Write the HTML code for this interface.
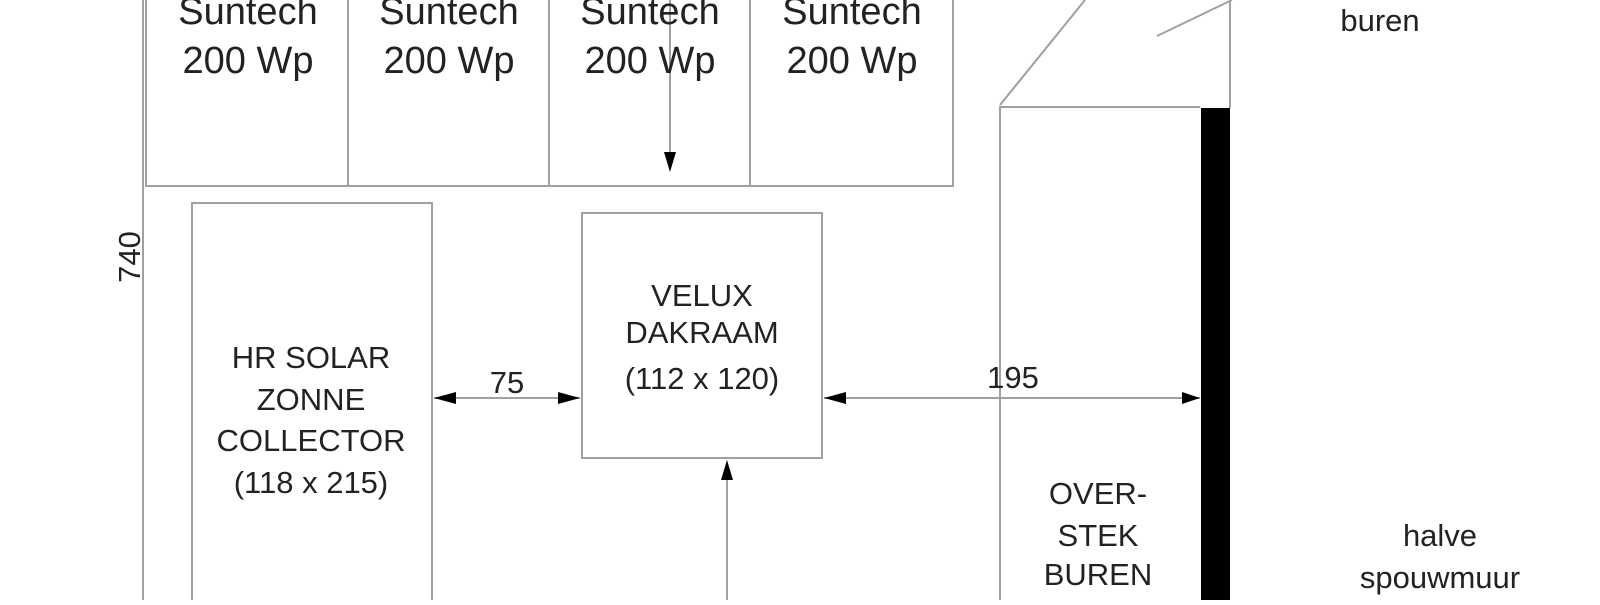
<!DOCTYPE html>
<html><head><style>
body{margin:0;background:#fff;}
svg text{font-family:"Liberation Sans",sans-serif;fill:#222;text-anchor:middle;}
</style></head><body>
<svg width="1600" height="600" xmlns="http://www.w3.org/2000/svg">
<g stroke="#a0a0a0" stroke-width="2" fill="none">
<line x1="143" y1="0" x2="143" y2="600"/>
<polyline points="146,0 146,186 953,186 953,0"/>
<line x1="348" y1="0" x2="348" y2="186"/>
<line x1="549" y1="0" x2="549" y2="186"/>
<line x1="750" y1="0" x2="750" y2="186"/>
<polyline points="192,600 192,203 432,203 432,600"/>
<rect x="582" y="213" width="240" height="245"/>
<polyline points="1000,600 1000,107 1200,107"/>
<line x1="1000" y1="105" x2="1085" y2="0"/>
<line x1="1157" y1="36" x2="1232" y2="0"/>
<line x1="1230" y1="0" x2="1230" y2="108"/>
<line x1="434" y1="398" x2="580" y2="398"/>
<line x1="824" y1="398" x2="1200" y2="398"/>
<line x1="670" y1="0" x2="670" y2="160"/>
<line x1="727" y1="470" x2="727" y2="600"/>
</g>
<rect x="1201" y="108" width="29" height="492" fill="#000"/>
<g fill="#000">
<polygon points="434,398 456,392 456,404"/>
<polygon points="580,398 558,392 558,404"/>
<polygon points="824,398 846,392 846,404"/>
<polygon points="1200,398 1182,392 1182,404"/>
<polygon points="670,172 664,152 676,152"/>
<polygon points="727,460 721,480 733,480"/>
</g>
<g font-size="38">
<text x="248" y="24">Suntech</text><text x="248" y="73">200 Wp</text>
<text x="449" y="24">Suntech</text><text x="449" y="73">200 Wp</text>
<text x="650" y="24">Suntech</text><text x="650" y="73">200 Wp</text>
<text x="852" y="24">Suntech</text><text x="852" y="73">200 Wp</text>
</g>
<g font-size="31">
<text x="311" y="368">HR SOLAR</text>
<text x="311" y="410">ZONNE</text>
<text x="311" y="451">COLLECTOR</text>
<text x="311" y="493">(118 x 215)</text>
<text x="702" y="306">VELUX</text>
<text x="702" y="343">DAKRAAM</text>
<text x="702" y="389">(112 x 120)</text>
<text x="507" y="393">75</text>
<text x="1013" y="388">195</text>
<text x="1098" y="504">OVER-</text>
<text x="1098" y="546">STEK</text>
<text x="1098" y="585">BUREN</text>
<text x="1380" y="31">buren</text>
<text x="1440" y="546">halve</text>
<text x="1440" y="588">spouwmuur</text>
<text x="0" y="0" transform="translate(140,257) rotate(-90)">740</text>
</g>
</svg>
</body></html>
